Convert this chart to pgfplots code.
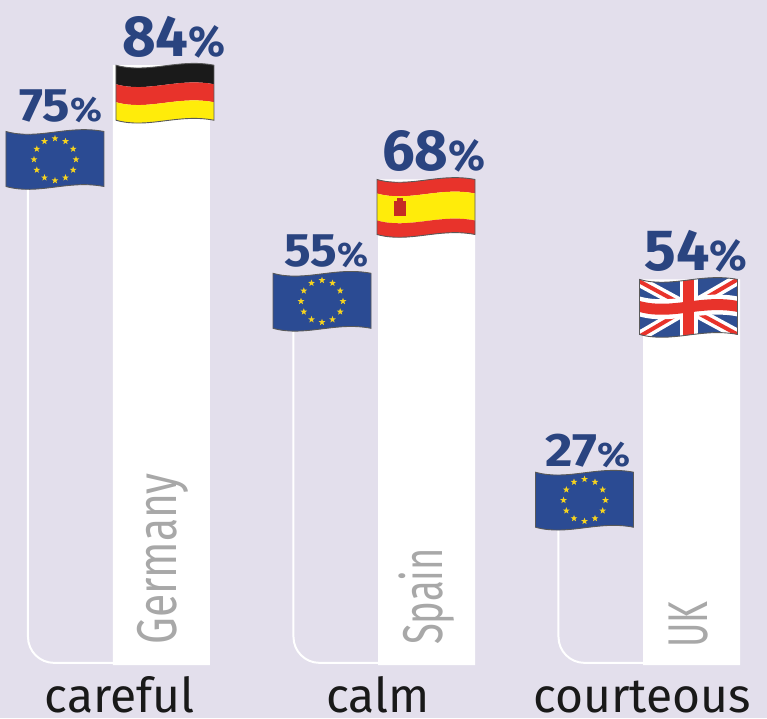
\documentclass[border=0pt]{standalone}
\usepackage{graphicx}
\usepackage{fontspec}
\setmainfont{Fira Sans}
\newfontfamily\lightf{Fira Sans}
\usepackage{pgfplots}
\pgfplotsset{compat=1.18}
\usetikzlibrary{shapes.geometric}
\definecolor{bgc}{HTML}{E3DFEC}
\definecolor{vblue}{HTML}{2A4480}
\definecolor{eub}{HTML}{2B4B93}
\definecolor{stary}{HTML}{F6D31F}
\definecolor{fred}{HTML}{E8332B}
\definecolor{fyel}{HTML}{FFEC0A}
\definecolor{fblk}{HTML}{1A1A1A}
\definecolor{ukb}{HTML}{2F4F92}
\definecolor{gtxt}{HTML}{A8A8A8}
\newcommand{\band}[3]{\fill[#3] (0,-#1) .. controls (32,-#1-9) and (62,-#1+7) .. (98,-#1) -- (98,-#2) .. controls (62,-#2+7) and (32,-#2-9) .. (0,-#2) -- cycle;}
\newcommand{\flagoutline}{\draw[black!65,line width=0.9pt] (0,0) .. controls (32,-9) and (62,7) .. (98,0) -- (98,-55) .. controls (62,-48) and (32,-64) .. (0,-55) -- cycle;}
\tikzset{x=1pt,y=1pt,
 pics/euflag/.style={code={
  \band{0}{55}{eub}
  \foreach \a in {0,30,...,330}{\node[star,star points=5,star point ratio=2.4,fill=stary,inner sep=0,minimum size=7pt] at ([shift={(\a:21)}]49,-28) {};}
  \flagoutline}},
 pics/deflag/.style={code={
  \band{0}{19}{fblk}\band{19}{37}{fred}\band{37}{55}{fyel}\flagoutline}},
 pics/esflag/.style={code={
  \band{0}{14}{fred}\band{14}{41}{fyel}\band{41}{55}{fred}
  \fill[fred!85!black] (17,-22) rectangle (29,-37);\fill[fred!85!black] (20,-19) rectangle (26,-23);
  \flagoutline}},
 pics/ukflag/.style={code={
  \begin{scope}
  \clip (0,0) .. controls (32,-9) and (62,7) .. (98,0) -- (98,-55) .. controls (62,-48) and (32,-64) .. (0,-55) -- cycle;
  \fill[ukb] (-2,8) rectangle (100,-66);
  \draw[white,line width=11pt] (0,-2)--(98,-55) (0,-57)--(98,0);
  \draw[fred,line width=4pt] (0,-2)--(98,-55) (0,-57)--(98,0);
  \draw[white,line width=18pt] (49,8)--(49,-66);
  \band{17}{37}{white}
  \draw[fred,line width=11pt] (49,8)--(49,-66);
  \band{21.5}{32.5}{fred}
  \end{scope}
  \flagoutline}}
}
\newcommand{\vlab}[3]{{\fontsize{#1}{#1}\selectfont\bfseries #2{\fontsize{#3}{#3}\selectfont\%}}}
\begin{document}
\begin{tikzpicture}
\fill[bgc] (0,0) rectangle (767pt,718pt);
\path[use as bounding box] (0,0) rectangle (767pt,718pt);
\begin{axis}[at={(0,0)},anchor=south west,scale only axis,width=767pt,height=718pt,
  xmin=-0.6094,xmax=2.2849,ymin=-7.423,ymax=93.137,
  axis line style={draw=none},major tick length=0pt,ytick=\empty,
  xtick={-0.157,0.817,1.813},xticklabels={careful,calm,courteous},
  xticklabel style={font=\fontsize{48}{48}\selectfont,text=black!90,yshift=6pt,anchor=base,inner sep=0pt},
  clip=false]
% EU series: white outline from the value down to the baseline
\addplot[white,line width=2pt,rounded corners=26pt] coordinates {(-0.5038,70) (-0.5038,0.3) (-0.17,0.3)};
\addplot[white,line width=2pt,rounded corners=26pt] coordinates {(0.498,50) (0.498,0.3) (0.83,0.3)};
\addplot[white,line width=2pt,rounded corners=26pt] coordinates {(1.498,22) (1.498,0.3) (1.83,0.3)};
% country series
\addplot[ybar,bar width=97pt,bar shift=0pt,fill=white,draw=none] coordinates {(0,84) (1,68) (2,54)};
\coordinate (eu1) at (axis cs:0,75);
\coordinate (de) at (axis cs:0,84);
\coordinate (eu2) at (axis cs:1,55);
\coordinate (es) at (axis cs:1,68);
\coordinate (eu3) at (axis cs:2,27);
\coordinate (uk) at (axis cs:2,54);
\node[rotate=90,anchor=base west,inner sep=0,text=gtxt,font=\lightf\fontsize{56}{56}\selectfont] at ([xshift=15.5pt]axis cs:0,2.8) {\scalebox{0.76}[1]{Germany}};
\node[rotate=90,anchor=base west,inner sep=0,text=gtxt,font=\lightf\fontsize{56}{56}\selectfont] at ([xshift=15.5pt]axis cs:1,2.8) {\scalebox{0.68}[1]{Spain}};
\node[rotate=90,anchor=base west,inner sep=0,text=gtxt,font=\lightf\fontsize{56}{56}\selectfont] at ([xshift=15.5pt]axis cs:2,2.4) {\scalebox{0.66}[1]{UK}};
\end{axis}
\pic at ([xshift=-155.5pt,yshift=-2pt]eu1) {euflag};
\pic at ([xshift=-45.5pt]de) {deflag};
\pic at ([xshift=-153.5pt,yshift=-1pt]eu2) {euflag};
\pic at ([xshift=-49.5pt]es) {esflag};
\pic at ([xshift=-156pt]eu3) {euflag};
\pic at ([xshift=-52pt]uk) {ukflag};
\tikzset{vl/.style={anchor=base west,inner sep=0,text=vblue}}
\node[vl] at ([xshift=-142.5pt,yshift=8pt]eu1) {\scalebox{1.09}[1]{\vlab{47}{75}{34}}};
\node[vl] at ([xshift=-39.5pt,yshift=9pt]de) {\vlab{58}{84}{43}};
\node[vl] at ([xshift=-142.5pt,yshift=6pt]eu2) {\scalebox{1.06}[1]{\vlab{47}{55}{34}}};
\node[vl] at ([xshift=-44.5pt,yshift=9pt]es) {\vlab{58}{68}{43}};
\node[vl] at ([xshift=-146pt,yshift=6pt]eu3) {\scalebox{1.13}[1]{\vlab{47}{27}{34}}};
\node[vl] at ([xshift=-47pt,yshift=9pt]uk) {\scalebox{1.02}[1]{\vlab{58}{54}{43}}};
\end{tikzpicture}
\end{document}
